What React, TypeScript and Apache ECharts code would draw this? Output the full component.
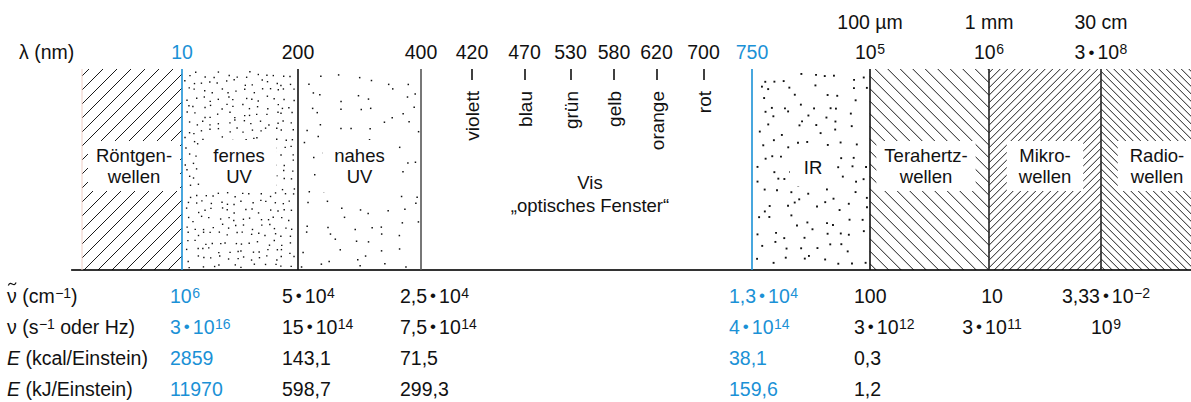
import React, { useEffect, useRef } from 'react';
import * as echarts from 'echarts';

const FONT = '"Liberation Sans", Arial, Helvetica, sans-serif';
const BLUE = '#1b91d6';
const INK = '#111111';

// ---------------- data ----------------
// The spectrum is a schematic (not to scale); bands sit on a schematic position axis.
const bandNames = ['Röntgen-\nwellen', 'fernes\nUV', 'nahes\nUV', 'Vis\n„optisches Fenster“', 'IR', 'Terahertz-\nwellen', 'Mikro-\nwellen', 'Radio-\nwellen'];
const bandEdges = [82, 182, 298, 421, 752, 870, 989, 1101, 1213];

const wavelengthLabels = ['10', '200', '400', '420', '470', '530', '580', '620', '700', '750', '10^{5}', '10^{6}', '3•10^{8}'];
const wavelengthAt = [182, 298, 421, 472, 524.5, 570.5, 614, 656.5, 703.5, 752, 870, 989, 1101];
const highlightedWavelengths = ['10', '750'];
const longWaveLabels = ['100 µm', '1 mm', '30 cm'];
const longWaveAt = [870, 989, 1101];
const colourNames = ['violett', 'blau', 'grün', 'gelb', 'orange', 'rot'];
const colourAt = [472, 524.5, 570.5, 614, 656.5, 703.5];

const rowKeys = ['wavenumber', 'frequency', 'kcal', 'kJ'];
const rowLabels = ['ν̃ (cm^{−1})', 'ν (s^{−1} oder Hz)', '*E* (kcal/Einstein)', '*E* (kJ/Einstein)'];
const wavenumbers = ['10^{6}', '5•10^{4}', '2,5•10^{4}', '1,3•10^{4}', '100', '10', '3,33•10^{−2}'];
const frequencies = ['3•10^{16}', '15•10^{14}', '7,5•10^{14}', '4•10^{14}', '3•10^{12}', '3•10^{11}', '10^{9}'];
const energyKcal = ['2859', '143,1', '71,5', '38,1', '0,3', '', ''];
const energyKJ = ['11970', '598,7', '299,3', '159,6', '1,2', '', ''];
const highlightedColumns = [0, 3];

// ---------------- styles ----------------
const bandPattern: any[] = [
  { kind: 'hatch', dir: 1, step: 14 },
  { kind: 'dots', step: 8, size: 1.4 },
  { kind: 'dots', step: 16, size: 1.5 },
  { kind: 'none' },
  { kind: 'dots', step: 13, size: 1.9 },
  { kind: 'hatch', dir: -1, step: 12.5 },
  { kind: 'hatch', dir: 1, step: 7.5 },
  { kind: 'hatch', dir: -1, step: 7.5 },
];
const bandLabelStyle: any[] = [
  { dx: 2, dy: 97, bg: true, pad: [4, 8], lh: 21 },
  { dx: -1, dy: 97, bg: true, pad: [5, 12], lh: 21 },
  { dx: 0, dy: 97, bg: true, pad: [5, 12], lh: 21 },
  { dx: 3.5, dy: 124.5, bg: false, pad: [0, 0], lh: 23 },
  { dx: 2, dy: 98, bg: true, pad: [9, 14], lh: 21 },
  { dx: -3.5, dy: 97, bg: true, pad: [4, 8], lh: 21 },
  { dx: 0, dy: 97, bg: true, pad: [4, 12], lh: 21 },
  { dx: 0, dy: 97, bg: true, pad: [4, 12], lh: 21 },
];
const edgeColors = ['#f0cfc6', BLUE, '#111', '#555', BLUE, '#111', '#222', '#222'];
const labelColumnX = 7;
const columnX = [170, 282, 400, 729, 854, 992, 1106];
const columnAlign = ['left', 'left', 'left', 'left', 'left', 'center', 'center'];

const FS = 19.5;
const TILDE = '\u0303';

function markup(s: string, tone: string): string {
  let out = '';
  const re = /\^\{([^}]*)\}|\*([^*]+)\*|(•)|([^^*•]+)/g;
  let m: RegExpExecArray | null;
  const clean = s.replace(TILDE, '');
  while ((m = re.exec(clean))) {
    if (m[1] !== undefined) out += `{s${tone}|${m[1]}}`;
    else if (m[2] !== undefined) out += `{i${tone}|${m[2]}}`;
    else if (m[3] !== undefined) out += `{d${tone}|•}`;
    else out += `{n${tone}|${m[4]}}`;
  }
  return out;
}

function richFor(key: 'fill' | 'color') {
  const base = (col: string, extra: any = {}) => ({ fontFamily: FONT, fontSize: FS, lineHeight: 20, [key]: col, ...extra });
  const sup = (col: string) => ({ fontFamily: FONT, fontSize: 14, lineHeight: 5, verticalAlign: 'top', padding: [0, 0, 0, 0.5], [key]: col });
  const dot = (col: string) => ({ fontFamily: FONT, fontSize: 17, lineHeight: 20, padding: [0, 3, 0, 3], [key]: col });
  return {
    nk: base(INK), nb: base(BLUE),
    ik: base(INK, { fontStyle: 'italic' }), ib: base(BLUE, { fontStyle: 'italic' }),
    sk: sup(INK), sb: sup(BLUE),
    dk: dot(INK), db: dot(BLUE),
  };
}

function jitter(a: number, b: number, c: number, k: number) {
  const h = Math.sin(a * 127.1 + b * 311.7 + c * 74.7 + k * 19.19) * 43758.5453;
  return h - Math.floor(h);
}

export default function App() {
  const ref = useRef<HTMLDivElement>(null);
  useEffect(() => {
    document.body.style.margin = '0';
    const chart = echarts.init(ref.current!, null, { renderer: 'svg' });
    const tableRows = [wavenumbers, frequencies, energyKcal, energyKJ];
    const tableData: number[][] = [];
    tableRows.forEach((row, r) => {
      tableData.push([labelColumnX, r, r, -1]);
      row.forEach((_, c) => tableData.push([columnX[c], r, r, c]));
    });
    const zrRich = richFor('fill');
    const ecRich = richFor('color');

    const option: any = {
      animation: false,
      textStyle: { fontFamily: FONT },
      grid: [
        { left: 72, right: 0, top: 69, height: 201, containLabel: false, outerBoundsMode: 'none' },
        { left: 0, right: 0, top: 280, height: 124, containLabel: false, outerBoundsMode: 'none' },
      ],
      xAxis: [
        {
          gridIndex: 0, type: 'value', position: 'top', min: 72, max: 1191,
          axisLine: { show: true, lineStyle: { color: '#000', width: 1.5 } },
          splitLine: { show: false },
          axisTick: { show: false },
          axisLabel: {
            show: true, customValues: wavelengthAt, margin: 7, rich: ecRich,
            formatter: (v: number) => {
              const i = wavelengthAt.findIndex((p) => Math.abs(p - v) < 0.01);
              if (i < 0) return '';
              const lab = wavelengthLabels[i];
              return markup(lab, highlightedWavelengths.includes(lab) ? 'b' : 'k');
            },
          },
        },
        {
          gridIndex: 0, type: 'value', position: 'top', offset: 30.5, min: 72, max: 1191,
          axisLine: { show: false }, axisTick: { show: false }, splitLine: { show: false },
          axisLabel: {
            show: true, customValues: longWaveAt, margin: 7, rich: ecRich,
            formatter: (v: number) => {
              const i = longWaveAt.findIndex((p) => Math.abs(p - v) < 0.01);
              return i < 0 ? '' : markup(longWaveLabels[i], 'k');
            },
          },
        },
        {
          gridIndex: 0, type: 'value', position: 'bottom', min: 72, max: 1191,
          axisLine: { show: true, lineStyle: { color: '#333', width: 2 } },
          axisTick: { show: false }, axisLabel: { show: false }, splitLine: { show: false },
        },
        { gridIndex: 1, type: 'value', min: 0, max: 1191, show: false, splitLine: { show: false } },
      ],
      yAxis: [
        { gridIndex: 0, type: 'value', min: 0, max: 1, show: false, splitLine: { show: false } },
        { gridIndex: 1, type: 'category', data: rowKeys, inverse: true, show: false },
      ],
      graphic: [
        { type: 'text', x: 19, y: 52, style: { text: 'λ (nm)', fill: INK, font: `${FS}px ${FONT}`, verticalAlign: 'middle' } },
      ],
      series: [
        {
          type: 'custom', xAxisIndex: 0, yAxisIndex: 0, clip: true,
          encode: { x: 0, y: 1 },
          data: bandNames.map((_, i) => [bandEdges[i], 0.5, bandEdges[i + 1], i]),
          renderItem: (params: any, api: any) => {
            const i = api.value(3) as number;
            const xa = api.coord([api.value(0), 0.5])[0];
            const xb = api.coord([api.value(2), 0.5])[0];
            const cs = params.coordSys;
            const ya = cs.y, yb = cs.y + cs.height;
            const children: any[] = [];
            const p = bandPattern[i];
            const lineStyle = { stroke: '#000', lineWidth: 0.9 };
            if (p.kind === 'hatch') {
              const s = p.step;
              if (p.dir === 1) {
                for (let c = xa + ya + s / 2; c < xb + yb; c += s) {
                  const y1 = Math.max(ya, c - xb), y2 = Math.min(yb, c - xa);
                  if (y2 > y1) children.push({ type: 'line', shape: { x1: c - y1, y1, x2: c - y2, y2 }, style: lineStyle });
                }
              } else {
                for (let c = xa - yb + s / 2; c < xb - ya; c += s) {
                  const y1 = Math.max(ya, xa - c), y2 = Math.min(yb, xb - c);
                  if (y2 > y1) children.push({ type: 'line', shape: { x1: c + y1, y1, x2: c + y2, y2 }, style: lineStyle });
                }
              }
            } else if (p.kind === 'dots') {
              const s = p.step;
              let r = 0;
              for (let gy = ya + 2; gy < yb - 2; gy += s, r++) {
                let q = 0;
                for (let gx = xa + 2; gx < xb - 2; gx += s, q++) {
                  const px = gx + jitter(i, r, q, 1) * (s - 2);
                  const py = gy + jitter(i, r, q, 2) * (s - 2);
                  if (px < xb - 3 && py < yb - 3) {
                    children.push({ type: 'rect', shape: { x: px, y: py, width: p.size, height: p.size }, style: { fill: '#111' } });
                  }
                }
              }
            }
            const ls = bandLabelStyle[i];
            children.push({
              type: 'text', z2: 20,
              x: (xa + xb) / 2 + ls.dx, y: ya + ls.dy,
              style: {
                text: bandNames[i], fill: INK, font: `18.5px ${FONT}`,
                align: 'center', verticalAlign: 'middle', lineHeight: ls.lh,
                backgroundColor: ls.bg ? '#fff' : undefined, padding: ls.pad,
              },
            });
            return { type: 'group', children };
          },
        },
        {
          type: 'custom', xAxisIndex: 0, yAxisIndex: 0, z: 3,
          encode: { x: 0, y: 1 },
          data: edgeColors.map((_, i) => [bandEdges[i], 0.5, i]),
          renderItem: (params: any, api: any) => {
            const i = api.value(2) as number;
            const x = Math.round(api.coord([api.value(0), 0.5])[0]);
            const cs = params.coordSys;
            return {
              type: 'line', z2: 10,
              shape: { x1: x, y1: cs.y, x2: x, y2: cs.y + cs.height },
              style: { stroke: edgeColors[i], lineWidth: i === 0 ? 1 : 1.6 },
            };
          },
        },
        {
          type: 'custom', xAxisIndex: 0, yAxisIndex: 0, z: 4,
          encode: { x: 0, y: 1 },
          data: colourNames.map((_, i) => [colourAt[i], 0.5, i]),
          renderItem: (params: any, api: any) => {
            const i = api.value(2) as number;
            const x = Math.round(api.coord([api.value(0), 0.5])[0]);
            const cs = params.coordSys;
            return {
              type: 'group',
              children: [
                { type: 'line', shape: { x1: x, y1: cs.y, x2: x, y2: cs.y + 11 }, style: { stroke: '#000', lineWidth: 1.5 } },
                {
                  type: 'text', x, y: cs.y + 22, rotation: Math.PI / 2,
                  style: { text: colourNames[i], fill: INK, font: `19px ${FONT}`, align: 'right', verticalAlign: 'middle' },
                },
              ],
            };
          },
        },
        {
          type: 'custom', xAxisIndex: 3, yAxisIndex: 1,
          encode: { x: 0, y: 1 },
          data: tableData,
          renderItem: (params: any, api: any) => {
            const r = api.value(2) as number;
            const c = api.value(3) as number;
            const raw = c < 0 ? rowLabels[r] : tableRows[r][c];
            if (!raw) return { type: 'group', children: [] };
            const pt = api.coord([api.value(0), r]);
            const tone = c >= 0 && highlightedColumns.includes(c) ? 'b' : 'k';
            const children: any[] = [{
              type: 'text', x: pt[0], y: pt[1],
              style: {
                text: markup(raw, tone), rich: zrRich, font: `${FS}px ${FONT}`, fill: INK,
                align: c < 0 ? 'left' : columnAlign[c], verticalAlign: 'middle',
              },
            }];
            if (raw.includes(TILDE)) {
              const x0 = pt[0] + 1.3, y0 = pt[1] - 11.5;
              children.push({
                type: 'bezierCurve',
                shape: { x1: x0, y1: y0 + 1.5, cpx1: x0 + 2.6, cpy1: y0 - 4.5, cpx2: x0 + 5.2, cpy2: y0 + 4.5, x2: x0 + 7.8, y2: y0 - 1.5 },
                style: { stroke: INK, lineWidth: 1.2, fill: 'none' },
              });
            }
            return { type: 'group', children };
          },
        },
      ],
    };
    chart.setOption(option);
    return () => chart.dispose();
  }, []);
  return <div ref={ref} style={{ width: 1191, height: 402 }} />;
}
